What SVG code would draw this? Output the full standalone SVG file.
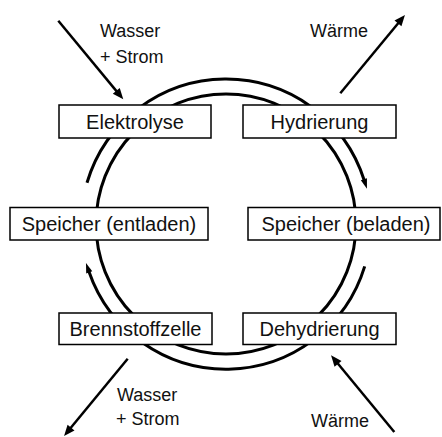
<svg xmlns="http://www.w3.org/2000/svg" width="442" height="437" viewBox="0 0 442 437">
<style>
.ring{fill:none;stroke:#000;stroke-width:3}
.flow{fill:none;stroke:#000;stroke-width:2.5}
.box{fill:#fff;stroke:#000;stroke-width:1.5}
.lbl{font-family:"Liberation Sans",Arial,sans-serif;font-size:20px;fill:#111;text-anchor:middle}
.ext{font-family:"Liberation Sans",Arial,sans-serif;font-size:18px;fill:#111}
</style>
<defs>
<marker id="ah" markerUnits="userSpaceOnUse" markerWidth="12" markerHeight="10" refX="0" refY="5" orient="auto" overflow="visible">
<path d="M-1,0.5 L10,5 L-1,9.5 z" fill="#000"/>
</marker>
<marker id="ahs" markerUnits="userSpaceOnUse" markerWidth="10" markerHeight="8" refX="0" refY="3.5" orient="auto" overflow="visible">
<path d="M-1,0.3 L9,3.5 L-1,6.7 z" fill="#000"/>
</marker>
</defs>
<g id="connectors">
<circle class="ring" cx="226" cy="224" r="130"/>
<path class="ring" d="M87,182.8 A145,145 0 0 1 364.2,180.2" marker-end="url(#ahs)"/>
<path class="ring" d="M364.7,266.4 A145,145 0 0 1 88.9,271.4" marker-end="url(#ahs)"/>
<line class="flow" x1="58.3" y1="20.7" x2="116.9" y2="91.6" marker-end="url(#ah)"/>
<line class="flow" x1="340.3" y1="93.3" x2="398.6" y2="22.7" marker-end="url(#ah)"/>
<line class="flow" x1="127.7" y1="358.7" x2="70.4" y2="428.3" marker-end="url(#ah)"/>
<line class="flow" x1="394.3" y1="432" x2="337.4" y2="363" marker-end="url(#ah)"/>
<text class="ext" x="100" y="37">Wasser</text>
<text class="ext" x="100" y="63">+ Strom</text>
<text class="ext" x="310" y="37">Wärme</text>
<text class="ext" x="117" y="401">Wasser</text>
<text class="ext" x="116" y="425">+ Strom</text>
<text class="ext" x="311" y="427">Wärme</text>
</g>
<g id="elektrolyse">
<rect class="box" x="59" y="105" width="152" height="33"/>
<text class="lbl" x="135" y="129">Elektrolyse</text>
</g>
<g id="hydrierung">
<rect class="box" x="243" y="105" width="153" height="33"/>
<text class="lbl" x="319.5" y="129">Hydrierung</text>
</g>
<g id="speicher-entladen">
<rect class="box" x="10" y="207.5" width="198" height="32.5"/>
<text class="lbl" x="109" y="231">Speicher (entladen)</text>
</g>
<g id="speicher-beladen">
<rect class="box" x="248" y="207.5" width="192" height="32.5"/>
<text class="lbl" x="346" y="231">Speicher (beladen)</text>
</g>
<g id="brennstoffzelle">
<rect class="box" x="59" y="313" width="153" height="31.5"/>
<text class="lbl" x="135.5" y="336">Brennstoffzelle</text>
</g>
<g id="dehydrierung">
<rect class="box" x="243" y="313" width="153" height="31.5"/>
<text class="lbl" x="319.5" y="336">Dehydrierung</text>
</g>
</svg>
